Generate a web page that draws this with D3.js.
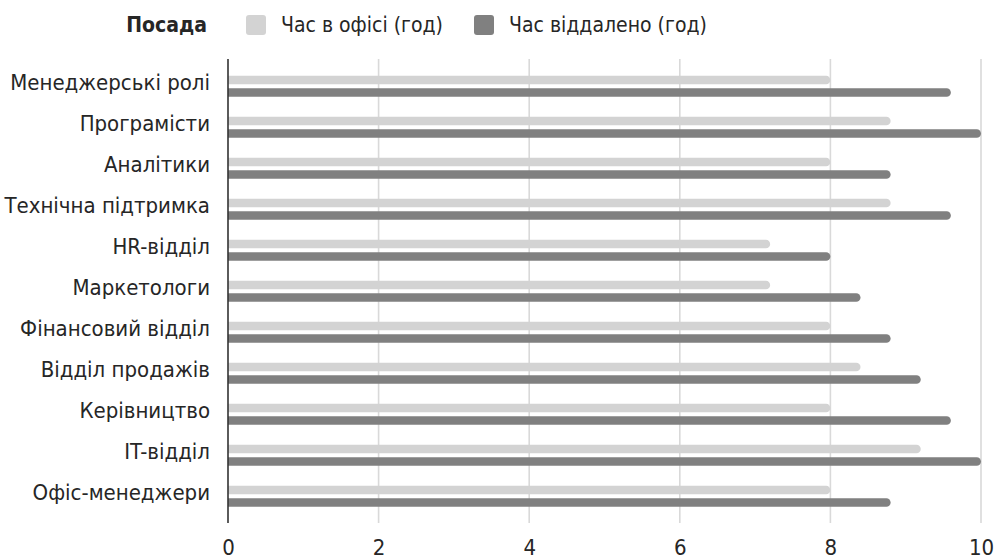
<!DOCTYPE html>
<html>
<head>
<meta charset="utf-8">
<script src="https://cdn.jsdelivr.net/npm/d3@7"></script>
<style>
  html, body { margin: 0; padding: 0; background: #ffffff; }
  svg { display: block; font-family: "DejaVu Sans Condensed", "DejaVu Sans", sans-serif; }
</style>
</head>
<body>
<svg id="chart" width="998" height="560"></svg>
<script>
// Робочі години за посадами: в офісі та віддалено
const categories = [
  "Менеджерські ролі", "Програмісти", "Аналітики", "Технічна підтримка",
  "HR-відділ", "Маркетологи", "Фінансовий відділ", "Відділ продажів",
  "Керівництво", "IT-відділ", "Офіс-менеджери"
];
const officeHours = [8.0, 8.8, 8.0, 8.8, 7.2, 7.2, 8.0, 8.4, 8.0, 9.2, 8.0];
const remoteHours = [9.6, 10.0, 8.8, 9.6, 8.0, 8.4, 8.8, 9.2, 9.6, 10.0, 8.8];
const seriesNames = ["Час в офісі (год)", "Час віддалено (год)"];
const seriesColors = ["#d3d3d3", "#808080"];
const xTicks = [0, 2, 4, 6, 8, 10];

const svg = d3.select("#chart");

const x = d3.scaleLinear().domain([0, 10]).range([228, 981]);
const y = d3.scaleBand().domain(categories).range([65.75, 516.75]).padding(0);
const ySub = d3.scaleBand().domain([0, 1]).range([10, 31]).paddingInner(0.32).paddingOuter(0);

// вертикальна сітка
svg.append("g")
  .selectAll("line")
  .data(xTicks.slice(1))
  .join("line")
  .attr("x1", d => x(d)).attr("x2", d => x(d))
  .attr("y1", 59).attr("y2", 523)
  .attr("stroke", "#d9d9d9")
  .attr("stroke-width", 1.6);

// смуги
const rows = categories.map((c, i) => ({ c, vals: [officeHours[i], remoteHours[i]] }));
const barH = ySub.bandwidth();
const groups = svg.append("g")
  .selectAll("g")
  .data(rows)
  .join("g")
  .attr("transform", d => `translate(0,${y(d.c)})`);

groups.selectAll("path")
  .data(d => d.vals.map((v, k) => ({ v, k })))
  .join("path")
  .attr("fill", d => seriesColors[d.k])
  .attr("d", d => {
    // прямий лівий край, заокруглений правий
    const x0 = x(0), x1 = x(d.v), y0 = ySub(d.k), h = barH, r = h / 2;
    return `M${x0},${y0}H${x1 - r}A${r},${r} 0 0 1 ${x1 - r},${y0 + h}H${x0}Z`;
  });

// вісь Y (лінія)
svg.append("line")
  .attr("x1", x(0)).attr("x2", x(0))
  .attr("y1", 59).attr("y2", 523)
  .attr("stroke", "#333333")
  .attr("stroke-width", 1.6);

// підписи категорій
svg.append("g")
  .selectAll("text")
  .data(categories)
  .join("text")
  .attr("x", 210)
  .attr("y", d => y(d) + 17)
  .attr("text-anchor", "end")
  .attr("dominant-baseline", "central")
  .attr("font-size", 22)
  .attr("fill", "#262626")
  .text(d => d);

// підписи осі X
const xAxis = d3.axisBottom(x).tickValues(xTicks).tickSize(0).tickPadding(0).tickFormat(d3.format("d"));
const gx = svg.append("g")
  .attr("transform", "translate(0,540)")
  .call(xAxis);
gx.select(".domain").remove();
gx.selectAll("text")
  .attr("font-size", 22)
  .attr("font-family", "\"DejaVu Sans Condensed\", sans-serif")
  .attr("fill", "#262626")
  .attr("dy", "0.35em")
  .attr("y", 7);

// легенда
const legend = svg.append("g");
legend.append("text")
  .attr("x", 207).attr("y", 25)
  .attr("text-anchor", "end")
  .attr("dominant-baseline", "central")
  .attr("font-size", 21)
  .attr("font-weight", "bold")
  .attr("fill", "#262626")
  .text("Посада");
const legendX = [246, 474];
seriesNames.forEach((name, k) => {
  legend.append("rect")
    .attr("x", legendX[k]).attr("y", 15)
    .attr("width", 20).attr("height", 20)
    .attr("rx", 3)
    .attr("fill", seriesColors[k]);
  legend.append("text")
    .attr("x", legendX[k] + 35).attr("y", 25)
    .attr("dominant-baseline", "central")
    .attr("font-size", 21)
    .attr("fill", "#262626")
    .text(name);
});
</script>
</body>
</html>
